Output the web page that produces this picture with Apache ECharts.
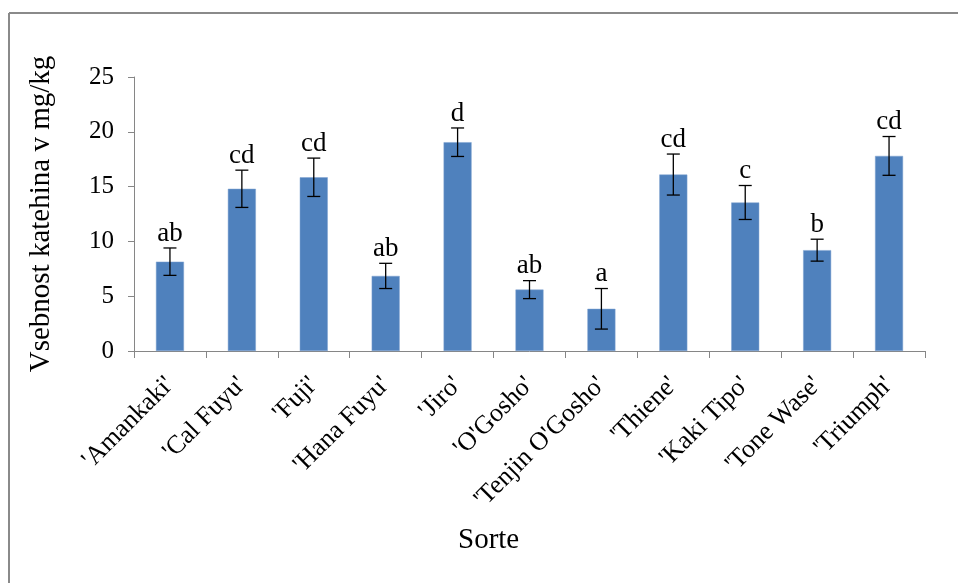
<!DOCTYPE html>
<html>
<head>
<meta charset="utf-8">
<script src="https://cdn.jsdelivr.net/npm/echarts@6/dist/echarts.min.js"></script>
<style>html,body{margin:0;padding:0;background:#fff}#c{width:958px;height:583px}</style>
</head>
<body>
<div id="c"></div>
<script>
const categories = ["'Amankaki'", "'Cal Fuyu'", "'Fuji'", "'Hana Fuyu'", "'Jiro'", "'O'Gosho'", "'Tenjin O'Gosho'", "'Thiene'", "'Kaki Tipo'", "'Tone Wase'", "'Triumph'"];
const values = [8.15, 14.8, 15.85, 6.85, 19.05, 5.6, 3.85, 16.1, 13.55, 9.2, 17.8];
const errors = [1.25, 1.7, 1.75, 1.15, 1.3, 0.82, 1.85, 1.87, 1.55, 1.0, 1.77];
const letters = ["ab", "cd", "cd", "ab", "d", "ab", "a", "cd", "c", "b", "cd"];
const yTicks = { min: 0, max: 25, interval: 5 };

const FONT = '"Liberation Serif", "Times New Roman", serif';
const chart = echarts.init(document.getElementById('c'));
const errData = values.map((v, i) => [i, v, errors[i], letters[i]]);

chart.setOption({
  animation: false,
  backgroundColor: '#fff',
  grid: { left: 134, right: 33, top: 77, bottom: 232, containLabel: false },
  xAxis: {
    type: 'category',
    data: categories,
    axisLine: { lineStyle: { color: '#868686', width: 1 } },
    axisTick: { show: true, length: 7, lineStyle: { color: '#868686' } },
    axisLabel: { rotate: 45, color: '#000', fontFamily: FONT, fontSize: 26, margin: 30, interval: 0 }
  },
  yAxis: {
    type: 'value',
    min: yTicks.min, max: yTicks.max, interval: yTicks.interval,
    name: 'Vsebnost katehina v mg/kg',
    nameLocation: 'middle',
    nameGap: 78,
    nameTextStyle: { color: '#000', fontFamily: FONT, fontSize: 29 },
    axisLine: { show: true, lineStyle: { color: '#868686', width: 1 } },
    axisTick: { show: true, length: 6, lineStyle: { color: '#868686' } },
    splitLine: { show: false },
    axisLabel: { color: '#000', fontFamily: FONT, fontSize: 25, margin: 20 }
  },
  graphic: [
    { type: 'line', shape: { x1: 9, y1: 13, x2: 958, y2: 13 }, style: { stroke: '#8a8a8a', lineWidth: 2 } },
    { type: 'line', shape: { x1: 9, y1: 13, x2: 9, y2: 583 }, style: { stroke: '#8a8a8a', lineWidth: 2 } },
    { type: 'text', left: 458, top: 526, style: { text: 'Sorte', fontFamily: FONT, fontSize: 29, fill: '#000' } }
  ],
  series: [
    {
      type: 'bar',
      data: values,
      barWidth: 28,
      itemStyle: { color: '#4f81bd', borderColor: '#7fa3d1', borderWidth: 0.5 }
    },
    {
      type: 'custom',
      data: errData,
      z: 10,
      renderItem: function (params, api) {
        const i = api.value(0), v = api.value(1), e = api.value(2);
        const top = api.coord([i, v + e]);
        const bot = api.coord([i, v - e]);
        const x = top[0];
        const hw = 6.5;
        return {
          type: 'group',
          children: [
            { type: 'line', shape: { x1: x, y1: top[1], x2: x, y2: bot[1] }, style: { stroke: '#000', lineWidth: 1.3 } },
            { type: 'line', shape: { x1: x - hw, y1: top[1], x2: x + hw, y2: top[1] }, style: { stroke: '#000', lineWidth: 1.3 } },
            { type: 'line', shape: { x1: x - hw, y1: bot[1], x2: x + hw, y2: bot[1] }, style: { stroke: '#000', lineWidth: 1.3 } },
            { type: 'text', x: x, y: top[1] - 1, style: { text: letters[params.dataIndex], fontFamily: FONT, fontSize: 27, fill: '#000', align: 'center', verticalAlign: 'bottom' } }
          ]
        };
      }
    }
  ]
});
</script>
</body>
</html>
